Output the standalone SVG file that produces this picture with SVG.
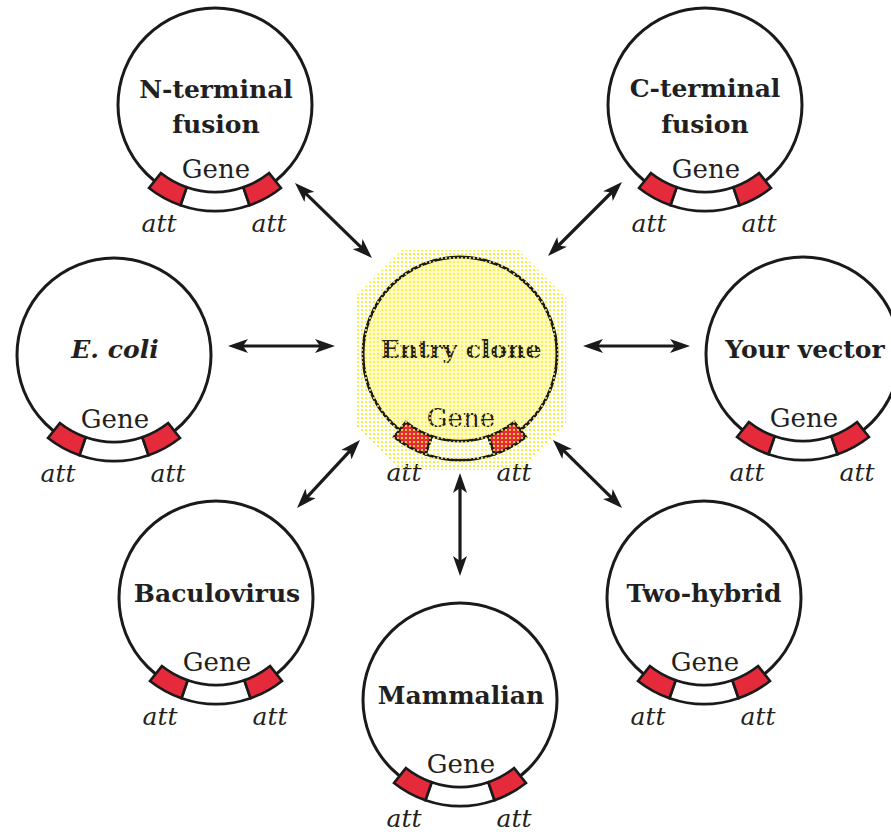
<svg xmlns="http://www.w3.org/2000/svg" xmlns:xlink="http://www.w3.org/1999/xlink" width="891" height="832" viewBox="0 0 891 832">
<style>
text{font-family:"DejaVu Serif","Liberation Serif",serif;fill:#231f20;text-anchor:middle}
.lbl{font-size:25px;font-weight:bold}
.gene{font-size:26px}
.att{font-size:25px;font-style:italic}
.conn{stroke:#1a1a1a;stroke-width:3.2;fill:none;marker-start:url(#ah);marker-end:url(#ah)}
.ring{fill:none;stroke:#1a1a1a;stroke-width:3}
.band{fill:#fff;stroke:#1a1a1a;stroke-width:2.6;stroke-linejoin:miter}
.site{fill:#e52a3c;stroke:#1a1a1a;stroke-width:2.6;stroke-linejoin:miter}
</style>
<defs>
<marker id="ah" viewBox="0 0 20 14" refX="8" refY="7" markerWidth="20" markerHeight="14" markerUnits="userSpaceOnUse" orient="auto-start-reverse">
<path d="M0,0 L20,7 L0,14 L5,7 Z" fill="#1a1a1a"/>
</marker>
<pattern id="dots" width="4" height="4" patternUnits="userSpaceOnUse">
<circle cx="2" cy="2" r="1.05" fill="#f6ee2c"/>
</pattern>
<g id="plasmid">
<circle class="ring" r="97"/>
<path class="band" d="M-28.33,82.26 A87,87 0 0 0 28.33,82.26 L34.51,100.22 A106,106 0 0 1 -34.51,100.22 Z"/>
<path class="site" d="M-54.16,68.09 A87,87 0 0 0 -28.33,82.26 L-34.51,100.22 A106,106 0 0 1 -65.99,82.96 Z"/>
<path class="site" d="M28.33,82.26 A87,87 0 0 0 54.16,68.09 L65.99,82.96 A106,106 0 0 1 34.51,100.22 Z"/>
</g>
<path id="halo" d="M402,250 L518,250 L566,298 L566,424 L520,470 L400,470 L356,426 L356,296 Z"/>
</defs>

<rect width="891" height="832" fill="#fff"/>

<g id="connectors">
<line class="conn" x1="240" y1="346" x2="323" y2="346"/>
<line class="conn" x1="595" y1="346" x2="678" y2="346"/>
<line class="conn" x1="303.6" y1="191.4" x2="363.4" y2="249.6"/>
<line class="conn" x1="613.5" y1="190.5" x2="556.5" y2="247.5"/>
<line class="conn" x1="305.2" y1="499.2" x2="351.8" y2="448.8"/>
<line class="conn" x1="613.5" y1="499.6" x2="561.5" y2="448.4"/>
<line class="conn" x1="460" y1="485" x2="460" y2="564"/>
</g>

<g id="n-terminal">
<use xlink:href="#plasmid" href="#plasmid" transform="translate(215,105)"/>
<text class="lbl" x="216" y="98">N-terminal</text>
<text class="lbl" x="216" y="133">fusion</text>
<text class="gene" x="216" y="178">Gene</text>
<text class="att" x="159" y="232">att</text>
<text class="att" x="269" y="232">att</text>
</g>

<g id="c-terminal">
<use xlink:href="#plasmid" href="#plasmid" transform="translate(705,105)"/>
<text class="lbl" x="705" y="97">C-terminal</text>
<text class="lbl" x="705" y="133">fusion</text>
<text class="gene" x="706" y="178">Gene</text>
<text class="att" x="649" y="232">att</text>
<text class="att" x="759" y="232">att</text>
</g>

<g id="e-coli">
<use xlink:href="#plasmid" href="#plasmid" transform="translate(114,355)"/>
<text class="lbl" x="115" y="358" font-style="italic">E. coli</text>
<text class="gene" x="115" y="428">Gene</text>
<text class="att" x="58" y="482">att</text>
<text class="att" x="168" y="482">att</text>
</g>

<g id="your-vector">
<use xlink:href="#plasmid" href="#plasmid" transform="translate(803,354)"/>
<text class="lbl" x="805" y="358">Your vector</text>
<text class="gene" x="804" y="427">Gene</text>
<text class="att" x="747" y="481">att</text>
<text class="att" x="857" y="481">att</text>
</g>

<g id="baculovirus">
<use xlink:href="#plasmid" href="#plasmid" transform="translate(216,598)"/>
<text class="lbl" x="217" y="602">Baculovirus</text>
<text class="gene" x="217" y="671">Gene</text>
<text class="att" x="160" y="725">att</text>
<text class="att" x="270" y="725">att</text>
</g>

<g id="two-hybrid">
<use xlink:href="#plasmid" href="#plasmid" transform="translate(704,598)"/>
<text class="lbl" x="704" y="602">Two-hybrid</text>
<text class="gene" x="705" y="671">Gene</text>
<text class="att" x="648" y="725">att</text>
<text class="att" x="758" y="725">att</text>
</g>

<g id="mammalian">
<use xlink:href="#plasmid" href="#plasmid" transform="translate(460,700)"/>
<text class="lbl" x="461" y="704">Mammalian</text>
<text class="gene" x="461" y="773">Gene</text>
<text class="att" x="404" y="827">att</text>
<text class="att" x="514" y="827">att</text>
</g>

<g id="entry-clone">
<use xlink:href="#halo" href="#halo" fill="#fff"/>
<use xlink:href="#halo" href="#halo" fill="url(#dots)"/>
<circle cx="460" cy="354" r="97" fill="#fffbc2"/>
<use xlink:href="#plasmid" href="#plasmid" transform="translate(460,354)"/>
<text class="lbl" x="461" y="358">Entry clone</text>
<text class="gene" x="461" y="427">Gene</text>
<text class="att" x="404" y="481">att</text>
<text class="att" x="514" y="481">att</text>
<use xlink:href="#halo" href="#halo" fill="url(#dots)"/>
</g>
</svg>
